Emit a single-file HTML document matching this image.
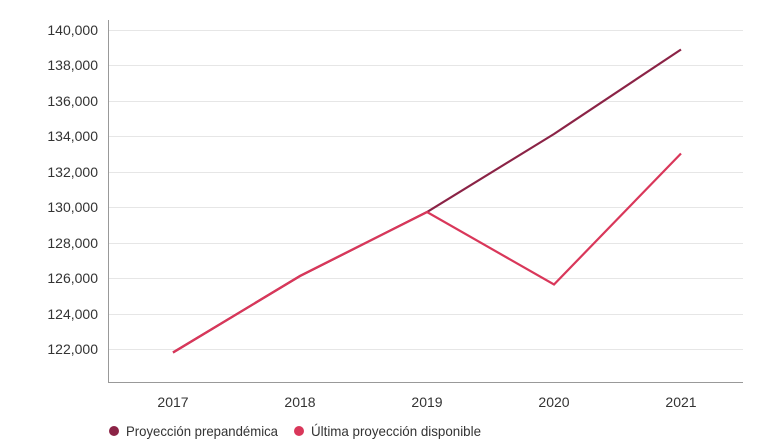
<!DOCTYPE html>
<html><head><meta charset="utf-8"><style>
body{margin:0;background:#fff;}
svg{display:block;font-family:"Liberation Sans",sans-serif;}
</style></head><body>
<svg width="777" height="441" viewBox="0 0 777 441">
<g stroke="#e6e6e6" stroke-width="1">
<line x1="108" x2="743" y1="30.5" y2="30.5"/><line x1="108" x2="743" y1="65.5" y2="65.5"/>
<line x1="108" x2="743" y1="101.5" y2="101.5"/><line x1="108" x2="743" y1="136.5" y2="136.5"/>
<line x1="108" x2="743" y1="172.5" y2="172.5"/><line x1="108" x2="743" y1="207.5" y2="207.5"/>
<line x1="108" x2="743" y1="243.5" y2="243.5"/><line x1="108" x2="743" y1="278.5" y2="278.5"/>
<line x1="108" x2="743" y1="314.5" y2="314.5"/><line x1="108" x2="743" y1="349.5" y2="349.5"/>
</g>
<line x1="108.5" x2="108.5" y1="20" y2="383" stroke="#999"/>
<line x1="108" x2="743" y1="382.5" y2="382.5" stroke="#999"/>
<g font-size="14" fill="#333" text-anchor="end">
<text x="98" y="35">140,000</text><text x="98" y="70">138,000</text><text x="98" y="106">136,000</text>
<text x="98" y="141">134,000</text><text x="98" y="177">132,000</text><text x="98" y="212">130,000</text>
<text x="98" y="248">128,000</text><text x="98" y="283">126,000</text><text x="98" y="319">124,000</text>
<text x="98" y="354">122,000</text>
</g>
<g font-size="14" fill="#333" text-anchor="middle">
<text x="173" y="407">2017</text><text x="300" y="407">2018</text><text x="427" y="407">2019</text>
<text x="554" y="407">2020</text><text x="681" y="407">2021</text>
</g>
<polyline points="173,352.5 300,276 427,212 554,134 681,49.5" fill="none" stroke="#8b2346" stroke-width="2.2"/>
<polyline points="173,352.5 300,276 427,212 554,284.5 681,153.5" fill="none" stroke="#d9375a" stroke-width="2.2"/>
<circle cx="114" cy="431" r="5" fill="#8b2346"/>
<text x="126" y="436" font-size="14" fill="#333" textLength="152" lengthAdjust="spacingAndGlyphs">Proyección prepandémica</text>
<circle cx="299" cy="431" r="5" fill="#d9375a"/>
<text x="311" y="436" font-size="14" fill="#333" textLength="170" lengthAdjust="spacingAndGlyphs">Última proyección disponible</text>
</svg>
</body></html>
